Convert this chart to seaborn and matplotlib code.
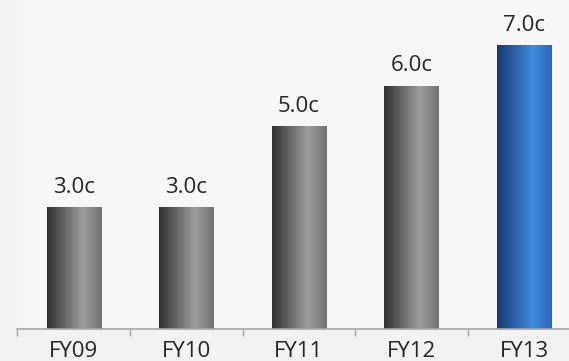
import numpy as np
import pandas as pd
import matplotlib
matplotlib.use("Agg")
import matplotlib.pyplot as plt
from matplotlib.colors import to_rgb
import seaborn as sns

# chart data
years = ["FY09", "FY10", "FY11", "FY12", "FY13"]
dividend = [3.0, 3.0, 5.0, 6.0, 7.0]
bar_labels = ["3.0c", "3.0c", "5.0c", "6.0c", "7.0c"]

GREY_STOPS = [(0.0, "#303030"), (0.65, "#9e9e9e"), (1.0, "#727272")]
BLUE_STOPS = [(0.0, "#183a6e"), (0.65, "#408ade"), (1.0, "#2d68bb")]


def make_gradient(stops, n=256):
    pos = [p for p, _ in stops]
    cols = np.array([to_rgb(c) for _, c in stops])
    t = np.linspace(0, 1, n)
    rgb = np.stack([np.interp(t, pos, cols[:, i]) for i in range(3)], axis=-1)
    return rgb[None, :, :]


sns.set_theme(style="white")
plt.rcParams["font.family"] = ["Open Sans", "DejaVu Sans"]

df = pd.DataFrame({"year": years, "dividend": dividend})

fig = plt.figure(figsize=(5.69, 3.61), dpi=100, facecolor="#f2f2f2")
ax = fig.add_axes([17.4 / 569, 32 / 361, 1 - 17.4 / 569, 1 - 32 / 361])
ax.set_facecolor("#f7f7f7")

sns.barplot(data=df, x="year", y="dividend", hue="year", order=years,
            palette=["#777777"] * 4 + ["#2f6fc4"], width=0.48,
            edgecolor="#c4c4c4", linewidth=0.8, legend=False, ax=ax)

# shaded cylinder look
for patch, name in zip(ax.patches, years):
    x, w, h = patch.get_x(), patch.get_width(), patch.get_height()
    grad = make_gradient(BLUE_STOPS if name == "FY13" else GREY_STOPS)
    im = ax.imshow(grad, extent=[x, x + w, 0, h], aspect="auto",
                   zorder=patch.get_zorder() + 0.1, interpolation="bilinear")
    im.set_clip_path(patch)

for cont, lab in zip(ax.containers, bar_labels):
    ax.bar_label(cont, labels=[lab], padding=7, fontsize=16, color="#262626")

ax.set_xlim(-0.5, 4.4)
ax.set_ylim(0, 8.12)
ax.set_xlabel("")
ax.set_ylabel("")
ax.set_yticks([])
sns.despine(ax=ax, left=True)
ax.spines["bottom"].set_color("#a6a6a6")
ax.spines["bottom"].set_linewidth(1.2)

ax.set_xticks(range(len(years)))
ax.set_xticklabels(years)
ax.set_xticks(np.arange(-0.5, 4.5, 1.0), minor=True)
ax.tick_params(axis="x", which="major", length=0, pad=8.5, labelsize=16,
               labelcolor="#262626")
ax.tick_params(axis="x", which="minor", bottom=True, length=5, width=1,
               color="#a6a6a6")

fig.savefig("out.png", dpi=100, facecolor=fig.get_facecolor())
